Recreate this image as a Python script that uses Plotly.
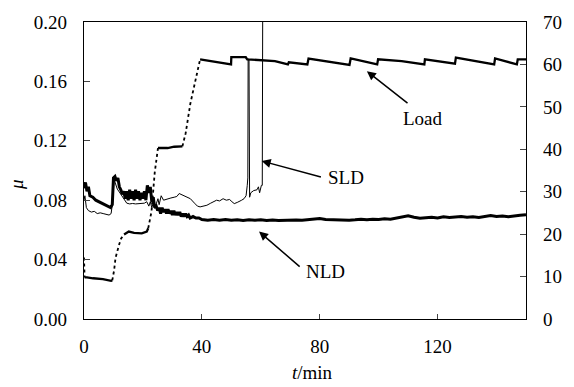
import plotly.graph_objects as go

# ---------------- data ----------------
# NLD friction coefficient (left axis)
nld_t = [0, 0.5, 1, 1.5, 2, 3, 4, 5, 6, 7, 8, 9, 9.6, 10, 10.5, 11, 11.5, 12, 12.5, 13,
         13.5, 14, 14.5, 15, 15.5, 16, 16.5, 17, 17.5, 18, 18.5, 19, 19.5, 20, 20.5, 21,
         21.5, 22, 22.5, 23, 23.5, 24, 24.5, 25, 25.5, 26, 26.5, 27, 27.5, 28, 28.5, 29,
         29.5, 30, 30.5, 31, 31.5, 32, 32.5, 33, 33.5, 34, 34.5, 35, 35.5, 36, 37, 38, 39,
         40, 42, 44, 46, 48, 50, 52, 54, 56, 58, 60, 62, 64, 66, 68, 70, 72, 74, 76, 78,
         80, 82, 84, 86, 88, 90, 92, 94, 96, 98, 100, 102, 104, 106, 108, 110, 112, 114,
         116, 118, 120, 122, 124, 126, 128, 130, 132, 134, 136, 138, 140, 142, 144, 146,
         148, 150]
nld_v = [0.088, 0.092, 0.086, 0.089, 0.083, 0.082, 0.080, 0.079, 0.078, 0.077, 0.076, 0.075, 0.077,
         0.095, 0.096, 0.093, 0.095, 0.089, 0.087, 0.084,
         0.086, 0.081, 0.086, 0.080, 0.087, 0.081, 0.086, 0.080, 0.087, 0.081, 0.086, 0.080,
         0.085, 0.081, 0.086, 0.080,
         0.090, 0.085, 0.089, 0.079, 0.082, 0.075, 0.076, 0.073, 0.075, 0.071, 0.075, 0.072,
         0.074, 0.071, 0.074, 0.071,
         0.073, 0.070, 0.073, 0.070, 0.072, 0.070, 0.072, 0.069, 0.071, 0.069, 0.071, 0.069,
         0.070, 0.068, 0.069, 0.068, 0.068,
         0.067, 0.0665, 0.067, 0.0665, 0.067, 0.0665, 0.0668, 0.0663, 0.0668, 0.0665, 0.0668,
         0.0663, 0.0667, 0.0664, 0.0666, 0.0663, 0.0667, 0.0665, 0.0668, 0.0672,
         0.0676, 0.067, 0.0668, 0.0665, 0.0668, 0.0665, 0.0668, 0.0672, 0.0668, 0.0672,
         0.067, 0.0675, 0.0672, 0.0678, 0.0685, 0.0695, 0.0685, 0.0678,
         0.0682, 0.0685, 0.068, 0.0688, 0.0684, 0.0686, 0.069, 0.0686, 0.0688, 0.0684,
         0.0692, 0.0696, 0.069, 0.0694, 0.0688, 0.0695,
         0.0698, 0.0702]

# SLD friction coefficient (left axis)
sld_t = [0, 0.3, 0.8, 1.5, 2.5, 3.5, 4.5, 5.5, 6.5, 7.5, 8.5, 9.2, 9.8, 10.2, 10.8, 11.3,
         12.5, 13.5, 14.5, 15.5, 16.5, 17.5, 18.5, 19.5, 20.5, 21.3, 22, 22.5, 23, 23.5,
         24, 24.6, 25.1, 25.5, 26.2, 27, 28.4, 29.5, 30.6, 31.5, 32.3, 32.8, 33.9, 35,
         36.1, 37.5, 38.5, 39.4, 40.5, 41.7, 43, 45, 46, 47.2, 48.3, 49.4, 50.2, 51, 52,
         52.7, 53.5, 54.3, 55, 55.4, 55.6, 55.7, 56.0, 56.2, 56.6, 57.6, 58.7, 59.2, 59.6,
         60.2, 60.5, 60.7]
sld_v = [0.080, 0.083, 0.075, 0.073, 0.072, 0.0725, 0.071, 0.0715, 0.071, 0.0705, 0.070,
         0.071, 0.080, 0.094, 0.091, 0.0875, 0.084, 0.081, 0.078, 0.0775, 0.0778, 0.0775,
         0.0778, 0.0777, 0.078, 0.079, 0.076, 0.079, 0.075, 0.078, 0.0745, 0.078, 0.081,
         0.077, 0.083, 0.080, 0.081, 0.0815, 0.082, 0.0825, 0.0845, 0.084, 0.083, 0.082,
         0.081, 0.078, 0.076, 0.0755, 0.076, 0.0766, 0.078, 0.080, 0.0795, 0.081, 0.080,
         0.0805, 0.079, 0.0777, 0.0785, 0.079, 0.080, 0.081, 0.083, 0.090, 0.095, 0.175,
         0.175, 0.082, 0.085, 0.0865, 0.087, 0.089, 0.085, 0.090, 0.090, 0.25]

# Load (right axis): holding segments and loading ramps
load_hold_t = [0.2, 1, 3.1, 6.4, 9.2, 9.6, None,
               13.6, 15.2, 17, 19.6, 21.3, 21.8, None,
               25.1, 28.4, 30.6, 33.4, None,
               39.4, 42.7, 46, 49.9, 50.0, 54.9, 55.4, 60.3, 64.8, 69.2, 69.5, 75.8, 76.2,
               90.1, 90.5, 99.5, 99.8, 107.8, 115.5, 115.7, 125.9, 126.2, 139.2, 139.5,
               146.9, 147.2, 150]
load_hold_v = [9.8, 9.8, 9.6, 9.4, 9.0, 9.1, None,
               19.9, 20.6, 20.3, 20.2, 20.6, 21.4, None,
               40.3, 40.3, 40.6, 40.7, None,
               61.2, 60.8, 60.4, 60.0, 61.7, 61.7, 61.2, 61.0, 60.8, 60.0, 60.5, 60.0, 61.4,
               59.9, 61.4, 60.0, 61.2, 60.8, 60.0, 61.2, 60.2, 61.6, 60.0, 61.4,
               60.0, 61.2, 61.2]
load_ramp_t = [0.0, 0.1, 0.2, None,
               9.6, 10.2, 10.7, 11.2, 11.9, 12.6, 13.6, None,
               21.8, 22.9, 24.0, 24.8, 25.1, None,
               33.4, 34.5, 36.1, 37.8, 38.9, 39.4]
load_ramp_v = [14.5, 12.0, 9.8, None,
               9.1, 11.4, 14.4, 16.0, 17.5, 19.0, 19.9, None,
               21.4, 25.3, 34.5, 39.9, 40.3, None,
               40.7, 43.8, 50.8, 56.2, 60.4, 61.2]

x_ticks = [0, 40, 80, 120]
y_ticks = [0.00, 0.04, 0.08, 0.12, 0.16, 0.20]
y2_ticks = [0, 10, 20, 30, 40, 50, 60, 70]

# ---------------- figure ----------------
FONT = "Liberation Serif, Times New Roman, serif"
fig = go.Figure()

fig.add_trace(go.Scatter(x=nld_t, y=nld_v, mode="lines",
                         line=dict(color="black", width=3), showlegend=False))
fig.add_trace(go.Scatter(x=sld_t, y=sld_v, mode="lines",
                         line=dict(color="black", width=1), showlegend=False))
fig.add_trace(go.Scatter(x=load_hold_t, y=load_hold_v, mode="lines", yaxis="y2",
                         line=dict(color="black", width=2.3), showlegend=False))
fig.add_trace(go.Scatter(x=load_ramp_t, y=load_ramp_v, mode="lines", yaxis="y2",
                         line=dict(color="black", width=1.8, dash="dot"), showlegend=False))

W, H = 574, 387
L, R, T, B = 84, 37, 17, 68
pw, ph = W - L - R, H - T - B


def px(xp):
    return (xp - L) / pw


def py(yp):
    return (H - B - yp) / ph


fig.update_layout(
    width=W, height=H,
    margin=dict(l=L, r=R, t=T, b=B, pad=0),
    paper_bgcolor="white", plot_bgcolor="white",
    font=dict(family=FONT, size=19, color="black"),
    xaxis=dict(range=[0, 150], tickvals=x_ticks, ticks="inside", ticklen=5, tickwidth=1.3,
               showline=True, linewidth=1.3, linecolor="black", mirror=True,
               showgrid=False, zeroline=False, ticklabelstandoff=10),
    yaxis=dict(range=[0, 0.2], tickvals=y_ticks, tickformat=".2f", ticks="inside",
               ticklen=6, tickwidth=1.3, showline=True, linewidth=1.3, linecolor="black",
               showgrid=False, zeroline=False, ticklabelstandoff=12),
    yaxis2=dict(range=[0, 70], tickvals=y2_ticks, overlaying="y", side="right",
                ticks="inside", ticklen=6, tickwidth=1.3, showline=True, linewidth=1.3,
                linecolor="black", showgrid=False, zeroline=False, ticklabelstandoff=12),
    annotations=[
        dict(text="<i>t</i>/min", xref="paper", yref="paper", x=px(318), y=py(373),
             showarrow=False, xanchor="center", yanchor="middle"),
        dict(text="<i>μ</i>", xref="paper", yref="paper", x=px(15), y=py(182),
             showarrow=False, xanchor="center", yanchor="middle", textangle=-90),
        # Load
        dict(text="Load", xref="x", yref="y", x=115.2, y=0.1351, showarrow=False),
        dict(text="", xref="x", yref="y", x=96.0, y=0.1669, axref="x", ayref="y",
             ax=110.3, ay=0.1446, showarrow=True, arrowhead=2, arrowsize=1.2,
             arrowwidth=1.5, arrowcolor="black", standoff=0),
        # SLD
        dict(text="SLD", xref="x", yref="y", x=88.9, y=0.095, showarrow=False),
        dict(text="", xref="x", yref="y", x=60.3, y=0.1064, axref="x", ayref="y",
             ax=80.9, ay=0.0954, showarrow=True, arrowhead=2, arrowsize=1.2,
             arrowwidth=1.5, arrowcolor="black", standoff=0),
        # NLD
        dict(text="NLD", xref="x", yref="y", x=82.0, y=0.0321, showarrow=False),
        dict(text="", xref="x", yref="y", x=59.4, y=0.0589, axref="x", ayref="y",
             ax=73.7, ay=0.0344, showarrow=True, arrowhead=2, arrowsize=1.2,
             arrowwidth=1.5, arrowcolor="black", standoff=0),
    ],
)

fig.write_html("out.html")
